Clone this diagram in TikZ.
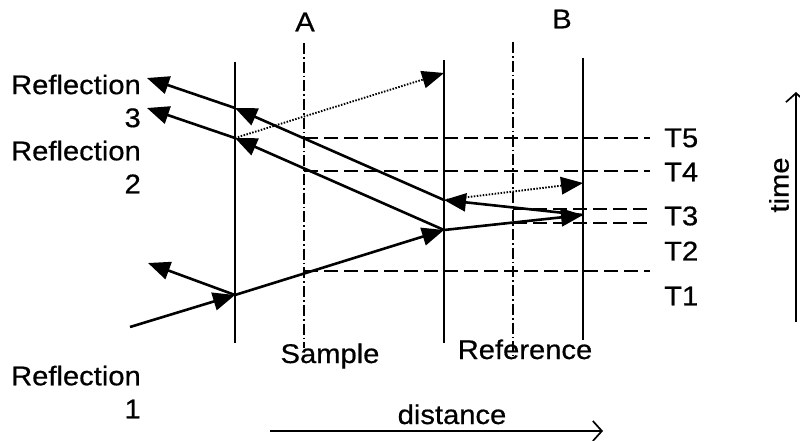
\documentclass[tikz,border=0pt]{standalone}
\usepackage{fontspec}
\setmainfont{Liberation Sans}[FakeStretch=1.08,FakeBold=0.6]
\usetikzlibrary{arrows.meta}
\begin{document}
\begin{tikzpicture}[x=1pt,y=-1pt,
  every node/.style={inner sep=0pt, font=\fontsize{27}{33}\selectfont},
  iface/.style={line width=1.8pt},
  ray/.style={line width=2.6pt, -{Triangle[length=22pt,width=18pt]}},
  dotray/.style={line width=1.9pt, dash pattern=on 1.5pt off 1.5pt, -{Triangle[length=22pt,width=18pt,line width=0pt]}},
  plane/.style={line width=1.7pt, dash pattern=on 11pt off 3pt on 1.7pt off 3pt},
  tline/.style={line width=2pt, dash pattern=on 14pt off 6pt},
  axis/.style={line width=1.7pt, -{Straight Barb[length=9pt,width=20pt,line width=1.7pt]}}
]
\useasboundingbox (0,0) rectangle (800,441);
% interfaces
\coordinate (s1t) at (235,62);  \coordinate (s1b) at (235,343);
\coordinate (s2t) at (444,60);  \coordinate (s2b) at (444,343);
\coordinate (s3t) at (583,58);  \coordinate (s3b) at (583,340);
\draw[iface] (s1t) -- (s1b);
\draw[iface] (s2t) -- (s2b);
\draw[iface] (s3t) -- (s3b);
% planes A and B
\coordinate (At) at (304,43); \coordinate (Ab) at (304,348);
\coordinate (Bt) at (513,42); \coordinate (Bb) at (513,356);
\draw[plane] (At) -- (Ab);
\draw[plane] (Bt) -- (Bb);
\node (A) at (305,22) {A};
\node (B) at (562,19) {B};
% time lines
\coordinate (h5a) at (304,138); \coordinate (h5b) at (650,138);
\coordinate (h4a) at (304,171); \coordinate (h4b) at (650,171);
\coordinate (h3a) at (513,209); \coordinate (h3b) at (650,209);
\coordinate (h2a) at (513,223); \coordinate (h2b) at (650,223);
\coordinate (h1a) at (304,271); \coordinate (h1b) at (650,271);
\draw[tline] (h5a) -- (h5b);
\draw[tline] (h4a) -- (h4b);
\draw[tline] (h3a) -- (h3b);
\draw[tline] (h2a) -- (h2b);
\draw[tline] (h1a) -- (h1b);
\node[anchor=west] (T5) at (664,138) {T5};
\node[anchor=west] (T4) at (664,172) {T4};
\node[anchor=west] (T3) at (664,216) {T3};
\node[anchor=west] (T2) at (664,251) {T2};
\node[anchor=west] (T1) at (664,296) {T1};
% rays
\coordinate (in) at (130,327);
\coordinate (p1) at (235,295);
\coordinate (r1) at (148,263);
\coordinate (p2) at (444,230);
\coordinate (p3) at (583,215);
\coordinate (p4) at (444,200);
\coordinate (p5) at (235,108);
\coordinate (r3) at (147,78);
\coordinate (p6) at (235,138);
\coordinate (r2) at (147,108);
\coordinate (d1) at (444,73);
\coordinate (d2) at (583,183);
\draw[ray] (in) -- (p1);
\draw[ray] (p1) -- (r1);
\draw[ray] (p1) -- (p2);
\draw[ray] (p2) -- (p3);
\draw[ray] (p3) -- (p4);
\draw[ray] (p4) -- (p5);
\draw[ray] (p5) -- (r3);
\draw[ray] (p2) -- (p6);
\draw[ray] (p6) -- (r2);
\draw[dotray] (p6) -- (d1);
\draw[dotray] (p4) -- (d2);
% labels
\node[align=right, anchor=east] (R3) at (141,101) {Reflection\\3};
\node[align=right, anchor=east] (R2) at (141,167) {Reflection\\2};
\node[align=right, anchor=east] (R1) at (141,392) {Reflection\\1};
\node[anchor=base] (sample) at (330,363) {Sample};
\node[anchor=base] (reference) at (525,359) {Reference};
\node[anchor=base] (distance) at (452,424) {distance};
\node[rotate=90] (time) at (779,185) {time};
% axes
\coordinate (x0) at (270,431); \coordinate (x1) at (603,431);
\coordinate (y0) at (796,322); \coordinate (y1) at (796,92);
\draw[axis] (x0) -- (x1);
\draw[axis] (y0) -- (y1);
\end{tikzpicture}
\end{document}
